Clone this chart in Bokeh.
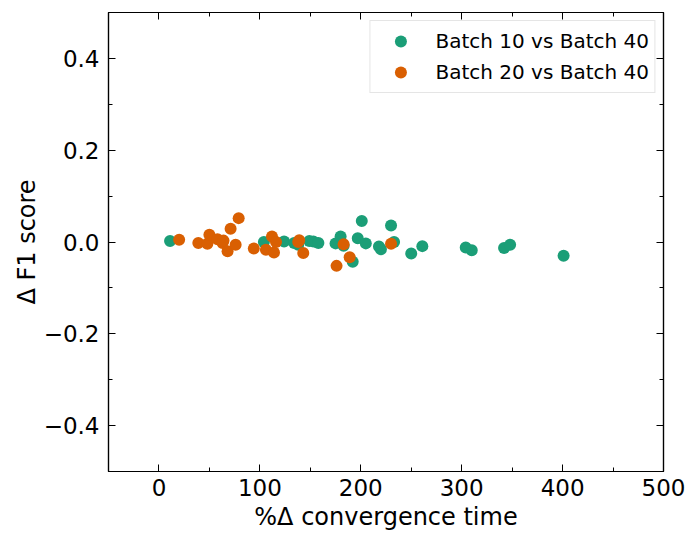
from bokeh.plotting import figure
from bokeh.models import LinearAxis, FixedTicker, Range1d, CustomJSTickFormatter
from bokeh.embed import file_html
from bokeh.resources import INLINE

# Batch 10 vs Batch 40
b10_x = [11, 104, 124, 134, 138, 149, 153, 158, 175, 180, 183, 192, 197, 201, 205,
         218, 220, 230, 233, 250, 261, 304, 310, 342, 348, 401]
b10_y = [0.002, 0.000, 0.001, -0.002, -0.006, 0.002, 0.001, -0.002, -0.003, 0.012, -0.008,
         -0.043, 0.008, 0.046, -0.003, -0.010, -0.016, 0.036, 0.000, -0.025, -0.009,
         -0.012, -0.018, -0.013, -0.006, -0.030]

# Batch 20 vs Batch 40
b20_x = [20, 39, 48, 50, 58, 63, 64, 68, 71, 76, 79, 94, 106, 112, 114, 116, 138, 139,
         143, 176, 183, 189, 230]
b20_y = [0.005, -0.002, -0.004, 0.016, 0.006, -0.002, 0.003, -0.020, 0.029, -0.006, 0.052,
         -0.014, -0.017, 0.012, -0.023, 0.000, 0.000, 0.004, -0.024, -0.052, -0.005,
         -0.033, -0.004]

x_major = [0, 100, 200, 300, 400, 500]
x_minor = [-50, 50, 150, 250, 350, 450]
y_major = [-0.4, -0.2, 0.0, 0.2, 0.4]
y_minor = [-0.5, -0.3, -0.1, 0.1, 0.3, 0.5]

FONT = "DejaVu Sans"
TICK_FS = "23px"
LABEL_FS = "24px"

p = figure(width=688, height=533, output_backend="svg", toolbar_location=None,
           x_range=Range1d(-50, 500), y_range=Range1d(-0.5, 0.5),
           min_border_left=108, min_border_right=25, min_border_top=12, min_border_bottom=61,
           x_axis_label="%Δ convergence time", y_axis_label="Δ F1 score")
p.xgrid.visible = False
p.ygrid.visible = False
p.background_fill_color = "white"
p.border_fill_color = "white"
p.outline_line_color = "black"
p.outline_line_width = 1.2

xt = FixedTicker(ticks=x_major, minor_ticks=x_minor)
yt = FixedTicker(ticks=y_major, minor_ticks=y_minor)
yfmt = CustomJSTickFormatter(code="return tick.toFixed(1).replace('-', '\u2212');")
blank = CustomJSTickFormatter(code="return '';")


def style_axis(ax, labels=True):
    ax.axis_line_color = "black"
    ax.axis_line_width = 1.2
    ax.major_tick_in = 7
    ax.major_tick_out = 0
    ax.minor_tick_in = 4
    ax.minor_tick_out = 0
    ax.major_tick_line_color = "black"
    ax.minor_tick_line_color = "black"
    ax.major_tick_line_width = 1
    ax.minor_tick_line_width = 1
    if labels:
        ax.major_label_text_font = FONT
        ax.major_label_text_font_size = TICK_FS
        ax.major_label_text_color = "black"
        ax.axis_label_text_font = FONT
        ax.axis_label_text_font_size = LABEL_FS
        ax.axis_label_text_font_style = "normal"
        ax.axis_label_text_color = "black"
    else:
        ax.formatter = blank
        ax.major_label_text_font_size = "4px"
        ax.major_label_standoff = 0


xa = p.xaxis[0]
xa.ticker = xt
style_axis(xa)
xa.major_label_standoff = 7
xa.axis_label_standoff = 4

ya = p.yaxis[0]
ya.ticker = yt
ya.formatter = yfmt
style_axis(ya)
ya.major_label_standoff = 9
ya.axis_label_standoff = 0

top = LinearAxis(ticker=xt)
style_axis(top, labels=False)
p.add_layout(top, "above")
right = LinearAxis(ticker=yt)
style_axis(right, labels=False)
p.add_layout(right, "right")

p.scatter(b10_x, b10_y, size=12, color="#1b9e77", line_color=None,
          legend_label="Batch 10 vs Batch 40")
p.scatter(b20_x, b20_y, size=12, color="#d95f02", line_color=None,
          legend_label="Batch 20 vs Batch 40")

lg = p.legend[0]
lg.location = "top_right"
lg.margin = 8
lg.padding = 5
lg.spacing = 1
lg.glyph_height = 30
lg.glyph_width = 50
lg.label_height = 30
lg.label_standoff = 10
lg.label_text_font = FONT
lg.label_text_font_size = "20px"
lg.label_text_color = "black"
lg.border_line_color = "#cccccc"
lg.border_line_width = 1
lg.background_fill_color = "white"
lg.background_fill_alpha = 0.8

open("out.html", "w").write(file_html(p, INLINE))
